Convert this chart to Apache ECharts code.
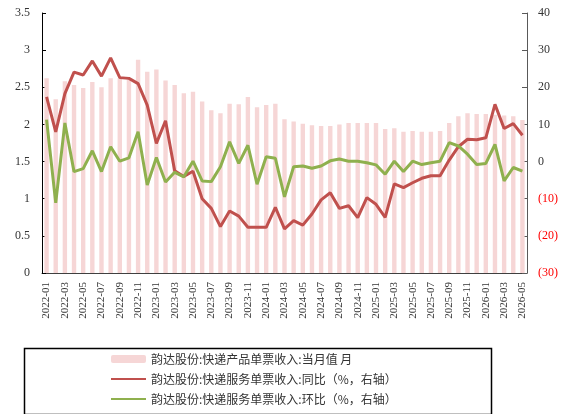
<!DOCTYPE html>
<html lang="zh">
  <head>
    <meta charset="UTF-8" />
    <title>韵达股份 单票收入</title>
    <script src="https://cdn.jsdelivr.net/npm/echarts@6/dist/echarts.min.js"></script>
    <style>
      body { margin: 0; background: #fff; }
    </style>
  </head>
  <body>
    <div id="main" style="width: 570px; height: 414px"></div>
    <script type="text/javascript">
      // months on the x axis
      const months = [
        "2022-01", "2022-02", "2022-03", "2022-04", "2022-05", "2022-06", "2022-07", "2022-08", "2022-09", "2022-10", "2022-11", "2022-12",
        "2023-01", "2023-02", "2023-03", "2023-04", "2023-05", "2023-06", "2023-07", "2023-08", "2023-09", "2023-10", "2023-11", "2023-12",
        "2024-01", "2024-02", "2024-03", "2024-04", "2024-05", "2024-06", "2024-07", "2024-08", "2024-09", "2024-10", "2024-11", "2024-12",
        "2025-01", "2025-02", "2025-03", "2025-04", "2025-05", "2025-06", "2025-07", "2025-08", "2025-09", "2025-10", "2025-11", "2025-12",
        "2026-01", "2026-02", "2026-03", "2026-04", "2026-05",
      ];
      // 快递产品单票收入:当月值 (元, left axis)
      const unitRevenue = [
        2.62, 2.34, 2.58, 2.53, 2.49, 2.57, 2.50, 2.62, 2.62, 2.62, 2.87, 2.71,
        2.74, 2.59, 2.53, 2.42, 2.44, 2.31, 2.19, 2.15, 2.28, 2.27, 2.37, 2.23,
        2.26, 2.28, 2.07, 2.04, 2.01, 1.99, 1.98, 1.98, 2.00, 2.02, 2.02, 2.02,
        2.02, 1.94, 1.95, 1.90, 1.91, 1.90, 1.90, 1.91, 2.02, 2.11, 2.15, 2.14,
        2.14, 2.13, 2.12, 2.11, 2.06,
      ];
      // 同比 (%, right axis)
      const yoy = [
        17.4, 8.0, 18.3, 24.1, 23.3, 27.1, 23.0, 27.9, 22.6, 22.4, 21.0, 15.2,
        4.9, 11.0, -2.5, -4.0, -2.6, -10.0, -12.6, -17.5, -13.3, -14.7, -17.7, -17.7,
        -17.7, -12.3, -18.1, -15.9, -17.1, -14.1, -10.3, -8.4, -12.6, -11.9, -15.1, -9.7,
        -11.5, -15.0, -6.0, -7.0, -5.7, -4.5, -3.8, -3.8, 0.4, 4.0, 6.0, 5.9,
        6.4, 15.4, 8.9, 10.2, 7.1,
      ];
      // 环比 (%, right axis)
      const mom = [
        11.3, -11.1, 10.4, -2.7, -1.9, 2.9, -2.7, 4.0, 0.1, 1.0, 8.0, -6.3,
        1.1, -5.5, -2.9, -4.1, 0.1, -5.2, -5.4, -1.4, 5.3, -0.5, 4.4, -6.1,
        1.3, 0.9, -9.5, -1.4, -1.2, -1.8, -1.2, 0.2, 0.7, 0.1, 0.1, -0.3,
        -0.9, -3.4, 0.1, -2.7, 0.1, -0.8, -0.3, 0.1, 5.1, 4.2, 2.0, -0.8,
        -0.5, 4.6, -5.2, -1.6, -2.6,
      ];
      const seriesNames = [
        "韵达股份:快递产品单票收入:当月值 月",
        "韵达股份:快递服务单票收入:同比（%，右轴）",
        "韵达股份:快递服务单票收入:环比（%，右轴）",
      ];

      const serif = "'Liberation Serif', 'Times New Roman', serif";
      const cjk = "'Noto Sans CJK SC', sans-serif";
      // hide the dot in the middle of the line legend icons
      const noDot = { color: "transparent", borderColor: "transparent", borderWidth: 0 };

      let myChart = echarts.init(document.getElementById("main"));
      let options = {
        animation: false,
        backgroundColor: "#fff",
        grid: { left: 42, right: 43, top: 13, bottom: 141 },
        xAxis: {
          type: "category",
          data: months,
          axisLine: { lineStyle: { color: "#404040", width: 1 } },
          axisTick: { inside: true, length: 4, interval: 1, lineStyle: { color: "#404040" } },
          axisLabel: {
            interval: 1,
            rotate: 90,
            margin: 9,
            fontFamily: serif,
            fontSize: 11,
            color: "#333",
          },
        },
        yAxis: [
          {
            type: "value",
            min: 0,
            max: 3.5,
            interval: 0.5,
            splitLine: { show: false },
            axisLine: { show: true, lineStyle: { color: "#000" } },
            axisTick: { show: true, inside: true, length: 4, lineStyle: { color: "#000" } },
            axisLabel: { margin: 12, fontFamily: serif, fontSize: 12, color: "#333" },
          },
          {
            type: "value",
            min: -30,
            max: 40,
            interval: 10,
            splitLine: { show: false },
            axisLine: { show: true, lineStyle: { color: "#595959" } },
            axisTick: { show: true, inside: true, length: 5, lineStyle: { color: "#595959" } },
            axisLabel: {
              margin: 11,
              fontFamily: serif,
              fontSize: 12,
              formatter: (v) => (v < 0 ? "(" + Math.abs(v) + ")" : String(v)),
              color: (v) => (Number(v) < 0 ? "#ff0000" : "#333"),
            },
          },
        ],
        legend: {
          orient: "vertical",
          left: 105,
          top: 348,
          itemWidth: 35,
          itemHeight: 8,
          itemGap: 8,
          textStyle: { fontFamily: cjk, fontSize: 12, color: "#333" },
          data: [
            { name: seriesNames[0] },
            { name: seriesNames[1], itemStyle: noDot },
            { name: seriesNames[2], itemStyle: noDot },
          ],
        },
        graphic: [
          {
            type: "rect",
            left: 22,
            top: 346,
            shape: { width: 467, height: 66 },
            style: { fill: "none", stroke: "#000", lineWidth: 1.5 },
            silent: true,
          },
        ],
        series: [
          {
            name: seriesNames[0],
            type: "bar",
            yAxisIndex: 0,
            barWidth: "48%",
            itemStyle: { color: "#f6d6d6" },
            data: unitRevenue,
          },
          {
            name: seriesNames[1],
            type: "line",
            yAxisIndex: 1,
            symbol: "none",
            lineStyle: { color: "#c0504d", width: 3 },
            itemStyle: { color: "#c0504d" },
            data: yoy,
          },
          {
            name: seriesNames[2],
            type: "line",
            yAxisIndex: 1,
            symbol: "none",
            lineStyle: { color: "#8fb04e", width: 3 },
            itemStyle: { color: "#8fb04e" },
            data: mom,
          },
        ],
      };
      myChart.setOption(options);
    </script>
  </body>
</html>
